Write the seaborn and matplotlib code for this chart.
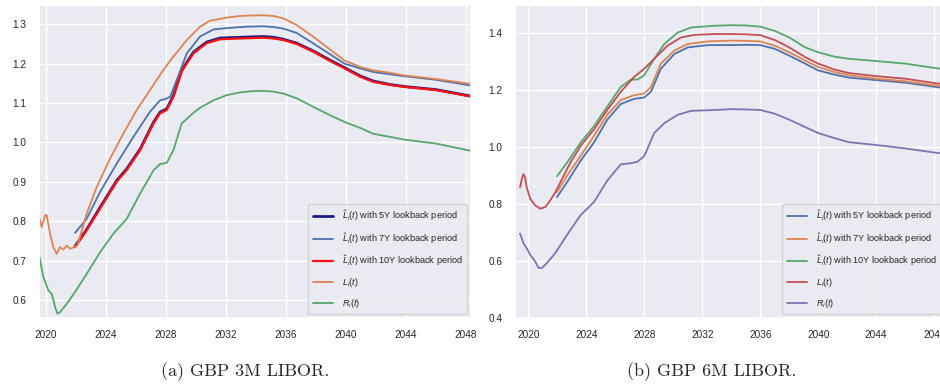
import numpy as np
import pandas as pd
import matplotlib
matplotlib.use("Agg")
import matplotlib.pyplot as plt
import seaborn as sns

# ---------------- Panel (a): GBP 3M LIBOR ----------------
a_L_t = [2019.56, 2019.71, 2019.93, 2020.04, 2020.27, 2020.49, 2020.71, 2020.93, 2021.16, 2021.38,
         2021.6, 2021.87, 2022.09, 2022.71, 2023.38, 2024.27, 2025.16, 2026.04, 2026.93, 2027.82,
         2028.49, 2029.38, 2030.27, 2030.93, 2032.04, 2032.93, 2033.38, 2034.49, 2035.16, 2035.83,
         2036.71, 2037.83, 2038.93, 2039.9, 2040.93, 2041.8, 2042.93, 2043.9, 2046.0, 2048.4]
a_L = [0.806, 0.785, 0.815, 0.815, 0.768, 0.734, 0.717, 0.734, 0.728, 0.738,
       0.730, 0.734, 0.738, 0.819, 0.887, 0.959, 1.023, 1.082, 1.133, 1.184,
       1.218, 1.260, 1.294, 1.309, 1.317, 1.321, 1.322, 1.323, 1.321, 1.315,
       1.298, 1.268, 1.236, 1.208, 1.192, 1.183, 1.177, 1.170, 1.161, 1.148]

a_7Y_t = [2021.93, 2022.71, 2023.6, 2024.71, 2025.82, 2026.93, 2027.6, 2027.93, 2028.27, 2028.71,
          2029.38, 2030.27, 2031.16, 2032.27, 2033.38, 2034.49, 2035.16, 2035.83, 2036.71, 2037.83,
          2038.93, 2039.9, 2040.93, 2041.8, 2042.93, 2043.9, 2046.0, 2048.4]
a_7Y = [0.770, 0.806, 0.874, 0.946, 1.014, 1.078, 1.107, 1.110, 1.116, 1.158,
        1.226, 1.269, 1.287, 1.291, 1.294, 1.295, 1.293, 1.289, 1.278, 1.251,
        1.224, 1.200, 1.188, 1.179, 1.173, 1.168, 1.159, 1.144]

a_10Y_t = [2021.93, 2022.71, 2023.6, 2024.71, 2025.38, 2026.27, 2027.16, 2027.6, 2028.04, 2028.49,
           2029.04, 2029.82, 2030.71, 2031.6, 2032.93, 2033.71, 2034.49, 2035.16, 2035.83, 2036.71,
           2037.83, 2038.93, 2039.9, 2040.93, 2041.8, 2042.93, 2043.9, 2046.0, 2048.4]
a_10Y = [0.734, 0.777, 0.832, 0.900, 0.930, 0.980, 1.048, 1.074, 1.082, 1.116,
         1.180, 1.226, 1.252, 1.262, 1.264, 1.265, 1.266, 1.264, 1.260, 1.250,
         1.230, 1.207, 1.188, 1.167, 1.154, 1.146, 1.141, 1.133, 1.116]
a_5Y_t = a_10Y_t
a_5Y = [0.736, 0.779, 0.835, 0.903, 0.933, 0.983, 1.051, 1.077, 1.085, 1.119,
        1.183, 1.229, 1.255, 1.265, 1.267, 1.268, 1.269, 1.267, 1.262, 1.252,
        1.232, 1.209, 1.190, 1.169, 1.156, 1.147, 1.142, 1.134, 1.117]

a_R_t = [2019.56, 2019.82, 2020.16, 2020.38, 2020.6, 2020.76, 2020.93, 2021.38, 2021.93, 2022.71,
         2023.6, 2024.49, 2025.38, 2026.27, 2027.16, 2027.6, 2028.04, 2028.49, 2029.04, 2029.82,
         2030.27, 2031.16, 2032.04, 2032.93, 2033.71, 2034.49, 2035.16, 2035.83, 2036.71, 2037.83,
         2038.93, 2039.9, 2040.93, 2041.8, 2042.93, 2043.9, 2046.0, 2048.4]
a_R = [0.709, 0.658, 0.624, 0.615, 0.582, 0.565, 0.569, 0.590, 0.620, 0.666,
       0.721, 0.768, 0.806, 0.870, 0.929, 0.945, 0.948, 0.980, 1.048, 1.075,
       1.088, 1.107, 1.120, 1.127, 1.130, 1.131, 1.129, 1.124, 1.112, 1.090,
       1.069, 1.052, 1.037, 1.022, 1.014, 1.007, 0.997, 0.978]

# ---------------- Panel (b): GBP 6M LIBOR ----------------
b_L_t = [2019.42, 2019.54, 2019.65, 2019.77, 2019.88, 2020.12, 2020.46, 2020.81, 2021.16, 2021.5,
         2021.85, 2022.2, 2022.89, 2023.59, 2024.51, 2025.44, 2026.37, 2027.29, 2027.99, 2028.68,
         2029.6, 2030.53, 2031.46, 2032.85, 2034.0, 2035.0, 2036.0, 2037.0, 2038.0, 2039.1,
         2040.0, 2041.07, 2042.1, 2044.0, 2046.0, 2048.8]
b_L = [0.859, 0.888, 0.906, 0.894, 0.859, 0.819, 0.796, 0.784, 0.790, 0.813,
       0.842, 0.877, 0.946, 1.004, 1.062, 1.131, 1.195, 1.247, 1.276, 1.311,
       1.357, 1.386, 1.395, 1.398, 1.398, 1.397, 1.394, 1.377, 1.351, 1.317,
       1.294, 1.274, 1.261, 1.250, 1.241, 1.220]

b_10Y_t = [2021.97, 2022.66, 2023.59, 2024.51, 2025.44, 2026.37, 2027.06, 2027.52, 2027.99, 2028.68,
           2029.38, 2030.3, 2031.23, 2032.85, 2034.0, 2035.0, 2036.0, 2037.0, 2038.0, 2039.1,
           2040.0, 2041.07, 2042.1, 2044.0, 2046.0, 2048.8]
b_10Y = [0.898, 0.946, 1.016, 1.074, 1.143, 1.212, 1.238, 1.238, 1.253, 1.311,
         1.363, 1.403, 1.421, 1.427, 1.429, 1.428, 1.424, 1.409, 1.386, 1.351,
         1.334, 1.319, 1.311, 1.303, 1.294, 1.273]

b_7Y_t = [2021.97, 2022.66, 2023.59, 2024.51, 2025.44, 2026.37, 2027.29, 2027.99, 2028.45, 2029.14,
          2030.07, 2031.0, 2032.38, 2034.0, 2035.0, 2036.0, 2037.0, 2038.0, 2039.1, 2040.0,
          2041.07, 2042.1, 2044.0, 2046.0, 2048.8]
b_7Y = [0.842, 0.900, 0.969, 1.039, 1.114, 1.166, 1.183, 1.189, 1.212, 1.294,
        1.340, 1.363, 1.372, 1.375, 1.374, 1.372, 1.357, 1.334, 1.305, 1.282,
        1.265, 1.253, 1.241, 1.232, 1.212]
b_5Y_t = b_7Y_t
b_5Y = [0.825, 0.877, 0.952, 1.016, 1.097, 1.152, 1.170, 1.175, 1.195, 1.276,
        1.328, 1.351, 1.359, 1.359, 1.360, 1.359, 1.346, 1.322, 1.294, 1.270,
        1.256, 1.245, 1.236, 1.227, 1.207]

b_R_t = [2019.42, 2019.65, 2019.88, 2020.12, 2020.46, 2020.69, 2020.93, 2021.27, 2021.85, 2022.66,
         2023.59, 2024.51, 2025.44, 2026.37, 2027.06, 2027.52, 2027.99, 2028.68, 2029.38, 2030.3,
         2031.23, 2032.85, 2034.0, 2035.0, 2036.0, 2037.0, 2038.0, 2039.1, 2040.0, 2041.07,
         2042.1, 2044.0, 2046.0, 2048.8]
b_R = [0.697, 0.663, 0.645, 0.622, 0.599, 0.576, 0.576, 0.593, 0.628, 0.692,
       0.761, 0.807, 0.883, 0.940, 0.944, 0.949, 0.969, 1.050, 1.085, 1.114,
       1.128, 1.131, 1.134, 1.133, 1.131, 1.118, 1.097, 1.071, 1.050, 1.033,
       1.018, 1.008, 0.996, 0.976]

labels = [r"$\hat{L}_i(t)$ with 5Y lookback period",
          r"$\hat{L}_i(t)$ with 7Y lookback period",
          r"$\hat{L}_i(t)$ with 10Y lookback period",
          r"$L_i(t)$",
          r"$R_i(t)$"]
x_ticks = [2020, 2024, 2028, 2032, 2036, 2040, 2044, 2048]
captions = ["(a) GBP 3M LIBOR.", "(b) GBP 6M LIBOR."]

# ---------------- style ----------------
sns.set_theme(style="darkgrid")
plt.rcParams["font.family"] = ["Liberation Sans", "DejaVu Sans"]
plt.rcParams["mathtext.fontset"] = "custom"
plt.rcParams["mathtext.rm"] = "Liberation Sans"
plt.rcParams["mathtext.it"] = "Liberation Sans:italic"

deep = sns.color_palette("deep")

fig = plt.figure(figsize=(9.4, 3.89), dpi=100)
axA = fig.add_axes([39/940, 71/389, 432/940, 313/389])
axB = fig.add_axes([515/940, 71/389, 430/940, 313/389])


def draw(ax, t, v, color, lw, label):
    df = pd.DataFrame({"t": t, "v": v})
    sns.lineplot(data=df, x="t", y="v", ax=ax, color=color, linewidth=lw, label=label)


draw(axA, a_5Y_t, a_5Y, "#1c1c86", 2.0, labels[0])
draw(axA, a_7Y_t, a_7Y, deep[0], 1.3, labels[1])
draw(axA, a_10Y_t, a_10Y, "#ff1010", 1.6, labels[2])
draw(axA, a_L_t, a_L, deep[1], 1.3, labels[3])
draw(axA, a_R_t, a_R, deep[2], 1.3, labels[4])

draw(axB, b_5Y_t, b_5Y, deep[0], 1.3, labels[0])
draw(axB, b_7Y_t, b_7Y, deep[1], 1.3, labels[1])
draw(axB, b_10Y_t, b_10Y, deep[2], 1.3, labels[2])
draw(axB, b_L_t, b_L, deep[3], 1.3, labels[3])
draw(axB, b_R_t, b_R, deep[4], 1.3, labels[4])

axA.set_xlim(2019.53, 2048.33)
axA.set_ylim(0.554, 1.349)
axA.set_yticks([0.6, 0.7, 0.8, 0.9, 1.0, 1.1, 1.2, 1.3])
axB.set_xlim(2019.07, 2048.75)
axB.set_ylim(0.4, 1.5)
axB.set_yticks([0.4, 0.6, 0.8, 1.0, 1.2, 1.4])

for ax in (axA, axB):
    ax.set_xticks(x_ticks)
    ax.set_xlabel("")
    ax.set_ylabel("")
    ax.tick_params(labelsize=7.2, pad=3)
    ax.legend(loc="lower right", fontsize=6.6, labelspacing=0.85, handlelength=2.2,
              handletextpad=0.95, borderpad=0.5, borderaxespad=0.4)

fig.text(245/940, 1 - 372/389, captions[0], ha="center", va="center",
         fontsize=13, family="cmr10")
fig.text(712/940, 1 - 372/389, captions[1], ha="center", va="center",
         fontsize=13, family="cmr10")

fig.savefig("out.png", dpi=100)
